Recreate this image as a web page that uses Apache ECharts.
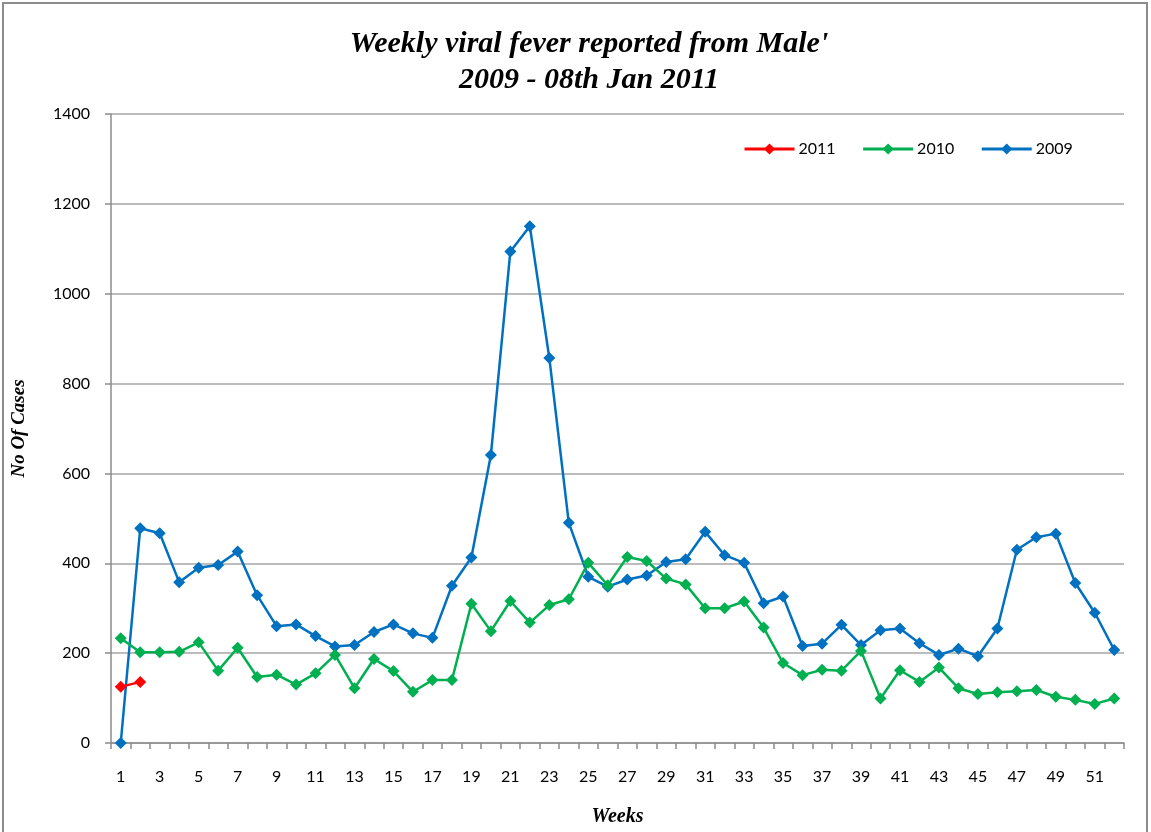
<!DOCTYPE html>
<html>
<head>
<meta charset="utf-8">
<script src="https://cdn.jsdelivr.net/npm/echarts@6/dist/echarts.min.js"></script>
<style>
html,body{margin:0;padding:0;background:#fff;}
#c{width:1151px;height:832px;}
</style>
</head>
<body>
<div id="c"></div>
<script>
const weeks = Array.from({length: 52}, (_, i) => String(i + 1));
const cases2011 = [125, 136];
const cases2010 = [233, 202, 202, 203, 224, 161, 212, 147, 152, 130, 155, 196, 122, 187, 160, 114, 140, 140, 310, 249,
  316, 268, 307, 320, 401, 351, 414, 405, 366, 353, 300, 300, 315, 257, 178, 151, 163, 161, 205, 99,
  162, 136, 168, 122, 109, 113, 115, 118, 103, 96, 87, 99];
const cases2009 = [0, 478, 467, 358, 390, 396, 426, 329, 260, 264, 238, 215, 218, 247, 264, 244, 234, 350, 413, 641,
  1094, 1150, 857, 490, 370, 348, 364, 373, 403, 409, 470, 418, 401, 311, 326, 216, 221, 263, 218, 251,
  255, 222, 196, 210, 193, 255, 430, 458, 466, 356, 290, 207];
const yTicks = [0, 200, 400, 600, 800, 1000, 1200, 1400];

const chart = echarts.init(document.getElementById('c'));
const labelFont = 'Lato, "Open Sans", sans-serif';
const serif = '"Liberation Serif", "Times New Roman", serif';
function lineSeries(name, data, color) {
  return {
    name: name, type: 'line', data: data,
    symbol: 'diamond', symbolSize: 12,
    lineStyle: {color: color, width: 2.5},
    itemStyle: {color: color},
    emphasis: {disabled: true},
    animation: false
  };
}
chart.setOption({
  animation: false,
  title: {
    text: "Weekly viral fever reported from Male'\n2009 - 08th Jan 2011",
    left: 584, textAlign: 'center', top: 21,
    textStyle: {fontFamily: serif, fontStyle: 'italic', fontWeight: 'bold', fontSize: 30, lineHeight: 36, color: '#000'}
  },
  graphic: [{
    type: 'rect', shape: {x: 3, y: 3, width: 1144, height: 840},
    style: {fill: 'none', stroke: '#8c8c8c', lineWidth: 2}, silent: true
  }],
  legend: {
    left: 738, top: 136,
    data: ['2011', '2010', '2009'],
    itemWidth: 50, itemHeight: 14, itemGap: 26,
    lineStyle: {width: 3},
    textStyle: {fontFamily: labelFont, fontSize: 16, color: '#000', padding: [0, 0, 0, -1]}
  },
  grid: {left: 111, right: 27, top: 114, bottom: 88, containLabel: false},
  xAxis: {
    type: 'category', data: weeks, boundaryGap: true,
    name: 'Weeks', nameLocation: 'middle', nameGap: 64,
    nameTextStyle: {fontFamily: serif, fontStyle: 'italic', fontWeight: 'bold', fontSize: 20, color: '#000'},
    axisLine: {lineStyle: {color: '#8c8c8c', width: 1.5}},
    axisTick: {show: true, interval: 0, length: 6, lineStyle: {color: '#8c8c8c', width: 1.5}},
    axisLabel: {interval: 1, margin: 26, fontFamily: labelFont, fontSize: 16, color: '#000'},
    splitLine: {show: false}
  },
  yAxis: {
    type: 'value', min: 0, max: 1400, interval: 200,
    name: 'No Of Cases', nameLocation: 'middle', nameGap: 82,
    nameTextStyle: {fontFamily: serif, fontStyle: 'italic', fontWeight: 'bold', fontSize: 19, color: '#000'},
    axisLine: {show: true, lineStyle: {color: '#8c8c8c', width: 1.5}},
    axisTick: {show: true, length: 6, lineStyle: {color: '#8c8c8c', width: 1.5}},
    axisLabel: {margin: 21, fontFamily: labelFont, fontSize: 16, color: '#000',
      formatter: v => yTicks.includes(v) ? String(v) : ''},
    splitLine: {show: true, lineStyle: {color: '#a6a6a6', width: 1.5}}
  },
  series: [
    lineSeries('2009', cases2009, '#0070C0'),
    lineSeries('2010', cases2010, '#00B050'),
    lineSeries('2011', cases2011, '#FF0000')
  ]
});
</script>
</body>
</html>
